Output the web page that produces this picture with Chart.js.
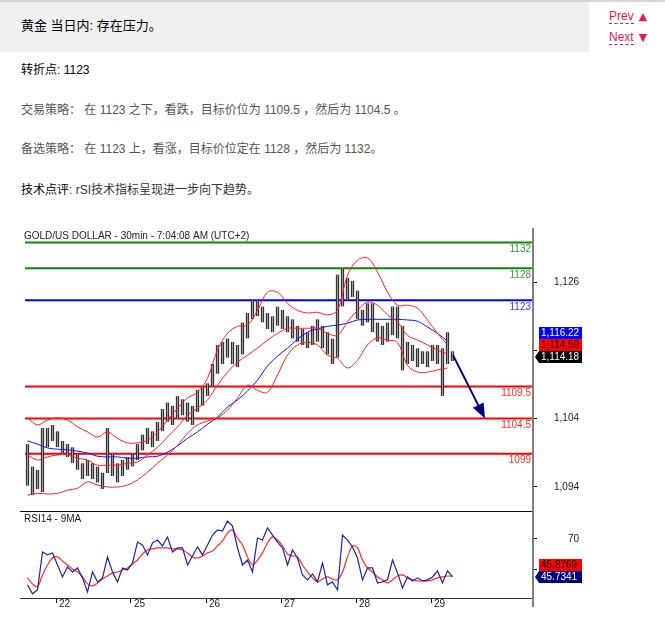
<!DOCTYPE html>
<html lang="zh-CN">
<head>
<meta charset="utf-8">
<title>黄金 当日内</title>
<script src="https://cdn.jsdelivr.net/npm/chart.js"></script>
<style>
  html, body { margin:0; padding:0; background:#fff; }
  body { width:665px; height:617px; position:relative; overflow:hidden;
         font-family:"Liberation Sans", Arial, "Noto Sans CJK SC", sans-serif; font-size:12px; }
  .topline { position:absolute; left:0; top:0; width:665px; height:2px; background:#d4d4d4; }
  .hdr { position:absolute; left:0; top:2px; width:589px; height:50px; background:#f0f0f0; }
  .hdr-text { position:absolute; left:21px; top:16px; font-size:13px; line-height:16px; color:#000; white-space:nowrap; }
  .nav { position:absolute; left:609px; line-height:14px; color:#e5174b; white-space:nowrap; }
  .nav .lbl { border-bottom:1px dashed #e5174b; }
  .nav .tri { font-family:"DejaVu Sans", sans-serif; font-size:11px; margin-left:5px; }
  .line { position:absolute; left:21px; line-height:16px; white-space:nowrap; color:#555; }
  .line b { font-weight:normal; color:#000; }
  canvas { position:absolute; }
</style>
</head>
<body>
<div class="topline"></div>
<div class="hdr"><div class="hdr-text">黄金 当日内: 存在压力。</div></div>
<div class="nav" style="top:9px"><span class="lbl">Prev</span><span class="tri">▲</span></div>
<div class="nav" style="top:30px"><span class="lbl">Next</span><span class="tri">▼</span></div>
<div class="line" style="top:62px;color:#000">转折点: 1123</div>
<div class="line" style="top:102px">交易策略： 在 1123 之下，看跌，目标价位为 1109.5 ，然后为 1104.5 。</div>
<div class="line" style="top:141px">备选策略： 在 1123 上，看涨，目标价位定在 1128 ，然后为 1132。</div>
<div class="line" style="top:182px;color:#333"><b>技术点评</b>: rSI技术指标呈现进一步向下趋势。</div>
<canvas id="price" width="582" height="283" style="left:18px;top:228px"></canvas>
<canvas id="rsi" width="582" height="106" style="left:18px;top:511px"></canvas>
<script>
// ---------------- data ----------------
const chartTitle = 'GOLD/US DOLLAR - 30min - 7:04:08 AM (UTC+2)';
const rsiTitle = 'RSI14 - 9MA';
const dayLabels = ['22','25','26','27','28','29'];
const dayStarts = [6.2, 21.2, 36.2, 51.2, 66.2, 81.2];     // in bar units
const X_MAX = 101.4;
const priceTickValues = [1093.8, 1104.47, 1115.13, 1125.8];
const priceTickLabels = ['1,094','1,104','1,115','1,126'];
const rsiTickValues = [50, 70];
const rsiTickLabels = ['50','70'];
const levelValues = [1132, 1128, 1123, 1109.5, 1104.5, 1099];
const levelLabels = ['1132','1128','1123','1109.5','1104.5','1099'];

const barHigh = [1100.5,1097,1096.5,1103,1103,1103.5,1102.5,1101,1100.5,1100,
 1099,1097.5,1098,1097.5,1097,1096,1103,1099,1097.5,1098,
 1098.5,1099,1100.5,1102,1103,1102.5,1104,1106,1107,1106.5,
 1108,1107.5,1107,1106.5,1109,1109.5,1110,1113,1116,1116.5,
 1117,1116.5,1116,1119.5,1121,1123,1123,1122,1121,1120.5,
 1122,1121.5,1120.5,1120,1119,1118.5,1118,1119,1120,1119,
 1118,1117,1127,1128,1126.5,1126,1124.5,1121.5,1122.5,1122.5,
 1119.5,1119,1119.5,1122,1122,1119,1116.5,1116,1115.5,1115,
 1115,1116,1116,1115.5,1118,1115];
const barLow = [1094,1092.5,1093.5,1093,1100,1101,1100,1099,1098.5,1097.5,
 1096.5,1095,1095.5,1095,1094.5,1093.5,1096,1095.5,1094.5,1095.5,
 1096.5,1097,1098,1099.5,1100.5,1100,1101,1102.5,1104,1103.5,
 1104.5,1105,1104,1103.5,1105.5,1106.5,1108,1109.5,1111.5,1113,
 1114,1113,1112.5,1114.5,1117,1120,1120.5,1119.5,1118.5,1118,
 1119,1118.5,1118,1117,1116.5,1116,1115.5,1116,1116.5,1115.5,
 1114.5,1113,1114,1122,1123,1123.5,1120,1119,1119.5,1118,
 1116.5,1116,1116.5,1117.5,1117,1112,1113,1113.5,1112.5,1113,
 1112.5,1113.5,1113,1108,1113,1113.5];

// indicator values, one every 2 bars
const bandUpper = [1104.6,1103.5,1104.25,1104.6,1104.25,1103.2,1102.4,1101.6,1102.4,1101.4,
 1100.7,1100.7,1101.1,1102.4,1104.25,1106.1,1107.7,1108.6,1110.8,1115.2,
 1117.8,1118.9,1119.1,1121.4,1124.25,1124.25,1122.5,1121.4,1121,1121.1,
 1120.7,1121.4,1126.9,1129.25,1129.6,1127.4,1124.25,1122.2,1122.2,1121.75,
 1119.9,1117.8,1116];
const bandMiddle = [1098.8,1098,1098.5,1098.8,1098.8,1098.3,1098,1097.2,1097.2,1097.2,
 1097.5,1097.7,1098.8,1100,1101.6,1103.2,1105,1106.1,1107.4,1109.7,
 1111.75,1113.3,1114.4,1115.5,1116.75,1117.8,1118.6,1118.6,1118.6,1118.6,
 1117.8,1117.5,1119.6,1121.4,1122.7,1122.2,1120.7,1119.6,1117.5,1116.75,
 1116,1115.2,1114.6];
const bandLower = [1092.5,1092.8,1092.7,1092.8,1093.3,1093.6,1094.6,1094.1,1093.8,1093.8,
 1094.1,1094.9,1096.1,1097.5,1098.8,1100.3,1102.2,1103.5,1104.1,1104.6,
 1105.8,1107.7,1109.7,1108.9,1108.6,1111.3,1114.4,1116,1116.4,1116,
 1114.4,1113.9,1112.4,1113.6,1116,1117.1,1116.75,1116.4,1112.8,1111.75,
 1111.75,1112.1,1112.4];
const maBlue = [1101,1100.5,1099.9,1099.7,1099.6,1099.4,1099.1,1098.6,1098.5,1098.5,
 1098.3,1098.3,1098.5,1098.6,1099.25,1100.2,1101.4,1102.4,1103.6,1104.7,
 1106.3,1107.4,1108.8,1110.5,1112.7,1114.25,1115.5,1116.9,1118,1118.5,
 1118.9,1119.1,1119.4,1119.9,1120,1120,1120,1120,1119.9,1119.7,
 1118.8,1117.8,1116.6];

const rsiLine = [40.4,34.6,37.1,61.6,59.7,61,53.2,45.5,51.9,48.7,
 51.3,44.9,35.8,48.7,42.3,44.9,58.4,48.7,42.3,51.3,
 50,54.5,68,66.1,59.7,67.4,69.3,65.5,71.3,61.6,
 64.2,64.2,53.2,59,64.8,59.7,66.1,72.5,75.8,75.1,
 81.6,78.3,64.2,53.2,56.4,48.7,70.6,69.3,77.1,72.5,
 68,64.2,53.2,62.9,57.7,46.8,43.6,47.4,42.3,54.5,
 40.4,42.3,37.1,72.5,69.3,64.8,57.7,43.6,51.3,51.3,
 41.6,42.3,43.6,56.4,48.1,38.4,45.5,42.9,44.9,42.9,
 43.6,45.5,49.4,41.6,49.4,45.7];
const rsiMA = [44.9,41,39.1,46.8,53.2,57.7,58.4,55.8,53.2,50.6,
 48.7,45.5,41,39.7,41.6,44.2,46.1,48.1,48.7,50,
 51.3,53.9,56.4,60.3,62.9,63.6,64.2,64.2,64.2,63.6,
 63.6,62.9,61,58.4,57.7,59,61,62.2,65.5,68.7,
 73.8,75.8,70.6,66.1,58.4,53.2,56.4,61,67.4,71.3,
 69.3,65.5,60.3,59,58.4,53.2,48.7,44.9,42.3,44.2,
 45.5,44.2,43.6,48.7,58.4,65.5,64.2,56.4,51.3,48.7,
 45.5,43.6,41.6,43.6,46.1,46.8,44.9,43.6,42.9,42.9,
 42.9,43.6,44.9,45.5,46.1,45.9];

const lastValues = [1116.22, 1114.59, 1114.18];       // MA, BB middle, close
const lastLabels = ['1,116.22', '1,114.59', '1,114.18'];
const rsiLast = [45.8769, 45.7341];
const rsiLastLabels = ['45.8769', '45.7341'];
const arrowFrom = [85.6, 1114.4];
const arrowTo = [92, 1104.5];

// ---------------- styles ----------------
const FONT = '"Liberation Sans", Arial, sans-serif';
const levelColors = ['#0a8a0a','#0a8a0a','#0000ff','#ff0000','#ff0000','#ff0000'];
const levelTextColors = ['#3f9a3f','#3f9a3f','#3a3aff','#ff2b2b','#ff2b2b','#ff2b2b'];
const priceBoxStyles = [
  {fill:'#0000ff', text:'#ffffff', pointer:false},
  {fill:'#ff0000', text:'#2a0000', pointer:false},
  {fill:'#000000', text:'#ffffff', pointer:true}
];
const rsiBoxStyles = [
  {fill:'#ff0000', text:'#000000', pointer:false},
  {fill:'#00007f', text:'#ffffff', pointer:true}
];

Chart.defaults.font.family = FONT;
Chart.defaults.font.size = 10;
Chart.defaults.color = '#222';
Chart.defaults.animation = false;

const pts = (arr, step) => arr.map((v, k) => ({x: k * step + 0.5, y: v}));
const seg = v => [{x: 0, y: v}, {x: X_MAX, y: v}];

function stackBoxes(chart, scale, values, labels, styles) {
  const ctx = chart.ctx, a = chart.chartArea;
  const h = 12, left = a.right + 7, w = 43;
  const items = values.map((v, k) => ({k, py: scale.getPixelForValue(v)}));
  items.sort((p, q) => q.py - p.py);
  let limit = Infinity;
  items.forEach(it => { let c = it.py; if (c + h / 2 > limit) c = limit - h / 2; it.cy = c; limit = c - h / 2; });
  ctx.save();
  ctx.font = '10px ' + FONT;
  ctx.textBaseline = 'middle'; ctx.textAlign = 'left';
  items.forEach(it => {
    const s = styles[it.k];
    const top = Math.round(it.cy - h / 2);
    ctx.fillStyle = s.fill;
    ctx.beginPath();
    if (s.pointer) {
      ctx.moveTo(a.right + 3, top + h / 2); ctx.lineTo(left, top); ctx.lineTo(left + w, top);
      ctx.lineTo(left + w, top + h); ctx.lineTo(left, top + h); ctx.closePath();
    } else ctx.rect(left, top, w, h);
    ctx.fill();
    ctx.fillStyle = s.text;
    ctx.fillText(labels[it.k], left + 2, top + h / 2 + 0.5);
  });
  ctx.restore();
}

const pricePlugin = {
  id: 'priceDeco',
  afterDatasetsDraw(chart) {
    const {ctx, chartArea: a, scales: {x, y}} = chart;
    ctx.save();
    ctx.font = '10px ' + FONT;
    ctx.textAlign = 'right'; ctx.textBaseline = 'middle';
    levelValues.forEach((v, k) => {
      ctx.fillStyle = levelTextColors[k];
      ctx.fillText(levelLabels[k], a.right - 1, y.getPixelForValue(v) + 7);
    });
    const x0 = x.getPixelForValue(arrowFrom[0]), y0 = y.getPixelForValue(arrowFrom[1]);
    const x1 = x.getPixelForValue(arrowTo[0]), y1 = y.getPixelForValue(arrowTo[1]);
    const ang = Math.atan2(y1 - y0, x1 - x0), L = 15, W = 6;
    const bx = x1 - L * Math.cos(ang), by = y1 - L * Math.sin(ang);
    ctx.strokeStyle = '#00007a'; ctx.lineWidth = 2;
    ctx.beginPath(); ctx.moveTo(x0, y0); ctx.lineTo(bx, by); ctx.stroke();
    ctx.fillStyle = '#00007a';
    ctx.beginPath(); ctx.moveTo(x1, y1);
    ctx.lineTo(bx + W * Math.sin(ang), by - W * Math.cos(ang));
    ctx.lineTo(bx - W * Math.sin(ang), by + W * Math.cos(ang));
    ctx.closePath(); ctx.fill();
    ctx.restore();
  },
  afterDraw(chart) {
    const {ctx, chartArea: a, scales: {y}} = chart;
    ctx.save();
    ctx.fillStyle = '#7f7f7f'; ctx.fillRect(a.right, 0, 2, chart.height);
    ctx.fillStyle = '#222'; ctx.font = '10px ' + FONT;
    ctx.textAlign = 'left'; ctx.textBaseline = 'middle';
    ctx.fillText(chartTitle, a.left - 1, 8);
    ctx.restore();
    stackBoxes(chart, y, lastValues, lastLabels, priceBoxStyles);
  }
};

const rsiPlugin = {
  id: 'rsiDeco',
  afterDraw(chart) {
    const {ctx, chartArea: a, scales: {y}} = chart;
    ctx.save();
    ctx.fillStyle = '#7f7f7f'; ctx.fillRect(a.right, 0, 2, chart.height - 10);
    ctx.fillStyle = '#111'; ctx.fillRect(2, 0, a.right - 2, 1);
    ctx.fillStyle = '#333'; ctx.fillRect(2, a.bottom, a.right - 2, 1);
    ctx.fillStyle = '#222'; ctx.font = '10px ' + FONT;
    ctx.textAlign = 'left'; ctx.textBaseline = 'middle';
    ctx.fillText(rsiTitle, a.left - 1, 8);
    ctx.restore();
    stackBoxes(chart, y, rsiLast, rsiLastLabels, rsiBoxStyles);
  }
};

const lineDs = (data, color, order, width, tension) => ({
  type: 'line', data, borderColor: color, borderWidth: width, pointRadius: 0,
  tension, fill: false, order
});

const levelDatasets = levelValues.map((v, k) => lineDs(seg(v), levelColors[k], 10, 2, 0));

new Chart(document.getElementById('price'), {
  type: 'line',
  data: {
    datasets: [
      lineDs(pts(bandUpper, 2), '#ff2020', 1, 1, 0.35),
      lineDs(pts(bandMiddle, 2), '#ff2020', 1, 1, 0.35),
      lineDs(pts(bandLower, 2), '#ff2020', 1, 1, 0.35),
      lineDs(pts(maBlue, 2), '#1010ff', 1, 1, 0.35),
      {
        type: 'bar', order: 5,
        data: barHigh.map((h, i) => ({x: i + 0.5, y: [barLow[i], h]})),
        backgroundColor: '#9a9a9a', borderColor: '#000',
        borderWidth: {left: 1, right: 1, top: 0, bottom: 0}, borderSkipped: false,
        barThickness: 3
      },
      ...levelDatasets
    ]
  },
  options: {
    responsive: false, devicePixelRatio: 1, animation: false,
    layout: {padding: {left: 7, right: 21, top: 12, bottom: 1}},
    plugins: {legend: {display: false}, tooltip: {enabled: false}, title: {display: false}},
    scales: {
      x: {type: 'linear', min: 0, max: X_MAX, offset: false, display: false},
      y: {
        type: 'linear', position: 'right', min: 1090.2, max: 1132.4,
        afterBuildTicks(s) { s.ticks = priceTickValues.map(v => ({value: v})); },
        afterFit(s) { s.width = 47; s.paddingTop = 0; s.paddingBottom = 0; },
        ticks: {callback: (v, i) => priceTickLabels[i], crossAlign: 'far', padding: 17.5, color: '#222', font: {size: 10}},
        grid: {drawOnChartArea: false, tickLength: 5, color: '#000'},
        border: {display: false}
      }
    }
  },
  plugins: [pricePlugin]
});

new Chart(document.getElementById('rsi'), {
  type: 'line',
  data: {
    datasets: [
      lineDs(pts(rsiLine, 1), '#22229a', 0, 1.2, 0),
      lineDs(pts(rsiMA, 1), '#ff2a2a', 1, 1.2, 0.35)
    ]
  },
  options: {
    responsive: false, devicePixelRatio: 1, animation: false,
    layout: {padding: {left: 7, right: 21, top: 1, bottom: 0}},
    plugins: {legend: {display: false}, tooltip: {enabled: false}},
    scales: {
      x: {
        type: 'linear', min: 0, max: X_MAX, offset: false, position: 'bottom',
        afterBuildTicks(s) { s.ticks = dayStarts.map(v => ({value: v})); },
        afterFit(s) { s.height = 19; s.paddingLeft = 0; s.paddingRight = 0; },
        ticks: {callback: (v, i) => dayLabels[i], align: 'start', labelOffset: 3, padding: -5,
                autoSkip: false, maxRotation: 0, color: '#222', font: {size: 10}},
        grid: {drawOnChartArea: false, tickLength: 5, color: '#000'},
        border: {display: false}
      },
      y: {
        type: 'linear', position: 'right', min: 31.9, max: 87.4,
        afterBuildTicks(s) { s.ticks = rsiTickValues.map(v => ({value: v})); },
        afterFit(s) { s.width = 47; s.paddingTop = 0; s.paddingBottom = 0; },
        ticks: {callback: (v, i) => rsiTickLabels[i], crossAlign: 'far', padding: 30, color: '#222', font: {size: 10}},
        grid: {drawOnChartArea: false, tickLength: 5, color: '#000'},
        border: {display: false}
      }
    }
  },
  plugins: [rsiPlugin]
});
</script>
</body>
</html>
